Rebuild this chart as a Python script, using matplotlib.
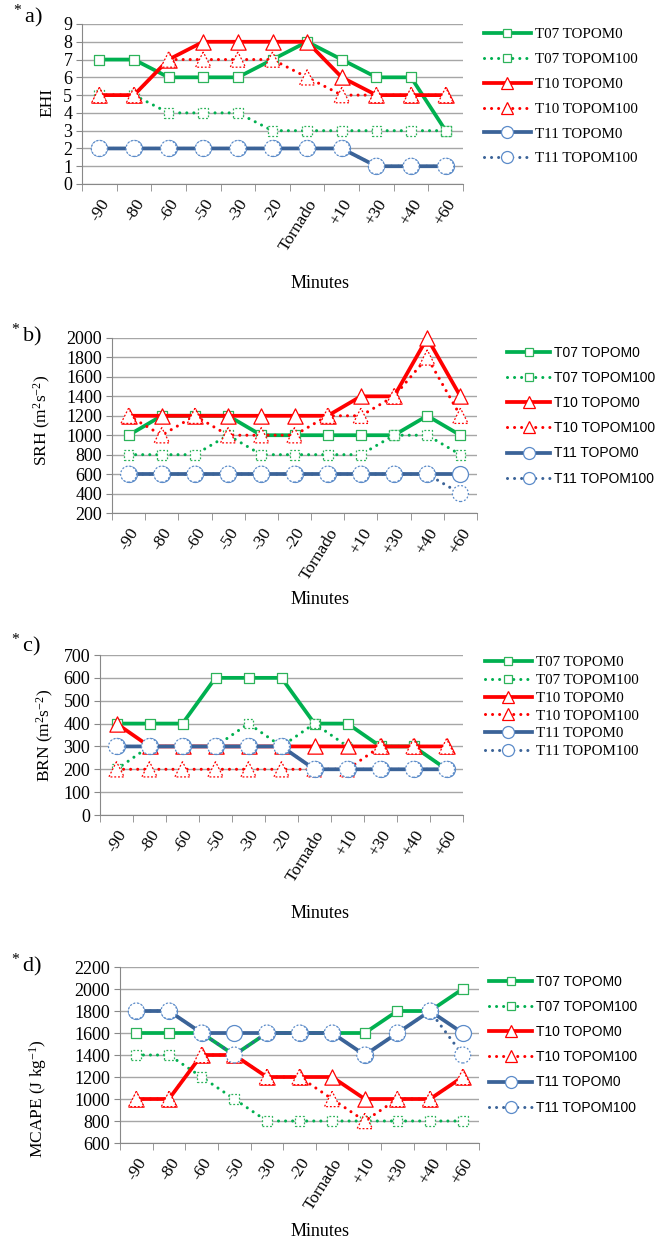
import matplotlib
matplotlib.use("Agg")
import matplotlib.pyplot as plt
from matplotlib.lines import Line2D

W, H = 662, 1240

minutes = ["-90", "-80", "-60", "-50", "-30", "-20", "Tornado", "+10", "+30", "+40", "+60"]
series_names = ["T07 TOPOM0", "T07 TOPOM100", "T10 TOPOM0", "T10 TOPOM100", "T11 TOPOM0", "T11 TOPOM100"]

# a) EHI
ehi_t07_0 = [7, 7, 6, 6, 6, 7, 8, 7, 6, 6, 3]
ehi_t07_100 = [5, 5, 4, 4, 4, 3, 3, 3, 3, 3, 3]
ehi_t10_0 = [5, 5, 7, 8, 8, 8, 8, 6, 5, 5, 5]
ehi_t10_100 = [5, 5, 7, 7, 7, 7, 6, 5, 5, 5, 5]
ehi_t11_0 = [2, 2, 2, 2, 2, 2, 2, 2, 1, 1, 1]
ehi_t11_100 = [2, 2, 2, 2, 2, 2, 2, 2, 1, 1, 1]

# b) SRH
srh_t07_0 = [1000, 1200, 1200, 1200, 1000, 1000, 1000, 1000, 1000, 1200, 1000]
srh_t07_100 = [800, 800, 800, 1000, 800, 800, 800, 800, 1000, 1000, 800]
srh_t10_0 = [1200, 1200, 1200, 1200, 1200, 1200, 1200, 1400, 1400, 2000, 1400]
srh_t10_100 = [1200, 1000, 1200, 1000, 1000, 1000, 1200, 1200, 1400, 1800, 1200]
srh_t11_0 = [600, 600, 600, 600, 600, 600, 600, 600, 600, 600, 600]
srh_t11_100 = [600, 600, 600, 600, 600, 600, 600, 600, 600, 600, 400]

# c) BRN
brn_t07_0 = [400, 400, 400, 600, 600, 600, 400, 400, 300, 300, 200]
brn_t07_100 = [200, 300, 300, 300, 400, 300, 400, 300, 300, 300, 200]
brn_t10_0 = [400, 300, 300, 300, 300, 300, 300, 300, 300, 300, 300]
brn_t10_100 = [200, 200, 200, 200, 200, 200, 200, 200, 300, 300, 300]
brn_t11_0 = [300, 300, 300, 300, 300, 300, 200, 200, 200, 200, 200]
brn_t11_100 = [300, 300, 300, 300, 300, 300, 200, 200, 200, 200, 200]

# d) MCAPE
mcape_t07_0 = [1600, 1600, 1600, 1400, 1600, 1600, 1600, 1600, 1800, 1800, 2000]
mcape_t07_100 = [1400, 1400, 1200, 1000, 800, 800, 800, 800, 800, 800, 800]
mcape_t10_0 = [1000, 1000, 1400, 1400, 1200, 1200, 1200, 1000, 1000, 1000, 1200]
mcape_t10_100 = [1000, 1000, 1400, 1400, 1200, 1200, 1000, 800, 1000, 1000, 1200]
mcape_t11_0 = [1800, 1800, 1600, 1600, 1600, 1600, 1600, 1400, 1600, 1800, 1600]
mcape_t11_100 = [1800, 1800, 1600, 1400, 1600, 1600, 1600, 1400, 1600, 1800, 1400]

plt.rcParams["font.family"] = ["Liberation Serif", "DejaVu Serif"]
plt.rcParams["mathtext.fontset"] = "custom"
plt.rcParams["mathtext.rm"] = "Liberation Serif"
plt.rcParams["mathtext.default"] = "regular"

GREEN = "#00B050"
RED = "#FF0000"
BLUE = "#3B6398"

# (cor da linha, marcador, tamanho, cor da borda)
styles = [
    (GREEN, "s", 7, "#2DB35A"),
    (GREEN, "s", 7, "#2DB35A"),
    (RED, "^", 11, RED),
    (RED, "^", 11, RED),
    (BLUE, "o", 11.5, "#5B8BC9"),
    (BLUE, "o", 11.5, "#5B8BC9"),
]
DOT = (0, (0.01, 2.3))

fig = plt.figure(figsize=(W / 100, H / 100), dpi=100)


def rect(l, r, t, b):
    return [l / W, 1 - b / H, (r - l) / W, (b - t) / H]


def painel(box, dados, ylo, yhi, ystep, ylabel, ylab_xy, letra, letra_xy,
           leg_xy, leg_font, leg_size, leg_space, minutes_y):
    ax = fig.add_axes(rect(*box))
    x = list(range(len(minutes)))
    for i, vals in enumerate(dados):
        cor, mk, ms, edge = styles[i]
        dotted = i % 2 == 1
        ax.plot(x, vals, color=cor, lw=2.2 if dotted else 2.7,
                linestyle=DOT if dotted else "-",
                dash_capstyle="round", zorder=3 + i, clip_on=False)
        ax.scatter(x, vals, marker=mk, s=ms ** 2, facecolor="white",
                   edgecolor=edge, linewidth=0.9,
                   linestyle=(0, (1.5, 1.5)) if dotted else "-",
                   zorder=3 + i, clip_on=False)
    ax.set_xlim(-0.5, len(minutes) - 0.5)
    ax.set_ylim(ylo, yhi)
    ticks = list(range(ylo, yhi + 1, ystep))
    ax.set_yticks(ticks)
    ax.set_yticklabels([str(t) for t in ticks], fontsize=13)
    ax.yaxis.grid(True, color="#A6A6A6", lw=1)
    ax.set_axisbelow(True)
    ax.set_xticks(x)
    ax.set_xticklabels(minutes, rotation=58, ha="right",
                       rotation_mode="anchor", fontsize=12.5)
    ax.set_xticks([k - 0.5 for k in range(len(minutes) + 1)], minor=True)
    ax.tick_params(axis="x", which="major", length=0, pad=9)
    ax.tick_params(axis="x", which="minor", length=5, color="#888888")
    ax.tick_params(axis="y", length=4, color="#888888", pad=3)
    for s in ["top", "right"]:
        ax.spines[s].set_visible(False)
    for s in ["left", "bottom"]:
        ax.spines[s].set_color("#888888")
    fig.text(ylab_xy[0] / W, 1 - ylab_xy[1] / H, ylabel, rotation=90,
             ha="center", va="center", fontsize=12.5)
    fig.text(letra_xy[0] / W, 1 - letra_xy[1] / H, letra, fontsize=16,
             ha="left", va="center")
    fig.text(320 / W, 1 - minutes_y / H, "Minutes", ha="center", va="center",
             fontsize=13)

    handles = []
    for i in range(6):
        cor, mk, ms, edge = styles[i]
        dotted = i % 2 == 1
        handles.append(Line2D([], [], color=cor, lw=2.2 if dotted else 2.7,
                              linestyle=DOT if dotted else "-",
                              dash_capstyle="round", marker=mk,
                              markersize=ms * 0.75, markerfacecolor="white",
                              markeredgecolor=edge, markeredgewidth=0.9))
    ax.legend(handles, series_names, loc="upper left",
              bbox_to_anchor=(leg_xy[0] / W, 1 - leg_xy[1] / H),
              bbox_transform=fig.transFigure, frameon=False,
              prop={"family": leg_font, "size": leg_size}, handlelength=3.1,
              handletextpad=0.3, labelspacing=leg_space, borderpad=0,
              borderaxespad=0)
    return ax


painel((82, 463, 24, 184),
       [ehi_t07_0, ehi_t07_100, ehi_t10_0, ehi_t10_100, ehi_t11_0, ehi_t11_100],
       0, 9, 1, "EHI", (47, 102), "$^*$a)", (10, 16),
       (484, 28), "Liberation Serif", 10.8, 0.75, 283)

painel((112, 477, 338, 513),
       [srh_t07_0, srh_t07_100, srh_t10_0, srh_t10_100, srh_t11_0, srh_t11_100],
       200, 2000, 200, "SRH (m$^{2}$s$^{-2}$)", (42, 420), "$^*$b)", (8, 335),
       (507, 346), "Liberation Sans", 10, 0.8, 600)

painel((100, 463, 655, 815),
       [brn_t07_0, brn_t07_100, brn_t10_0, brn_t10_100, brn_t11_0, brn_t11_100],
       0, 700, 100, "BRN (m$^{2}$s$^{-2}$)", (45, 735), "$^*$c)", (8, 645),
       (485, 656), "Liberation Serif", 10.8, 0.28, 914)

painel((120, 479, 967, 1143),
       [mcape_t07_0, mcape_t07_100, mcape_t10_0, mcape_t10_100, mcape_t11_0, mcape_t11_100],
       600, 2200, 200, "MCAPE (J kg$^{-1}$)", (38, 1099), "$^*$d)", (8, 965),
       (489, 975), "Liberation Sans", 10, 0.8, 1232)

fig.savefig("out.png", dpi=100)
